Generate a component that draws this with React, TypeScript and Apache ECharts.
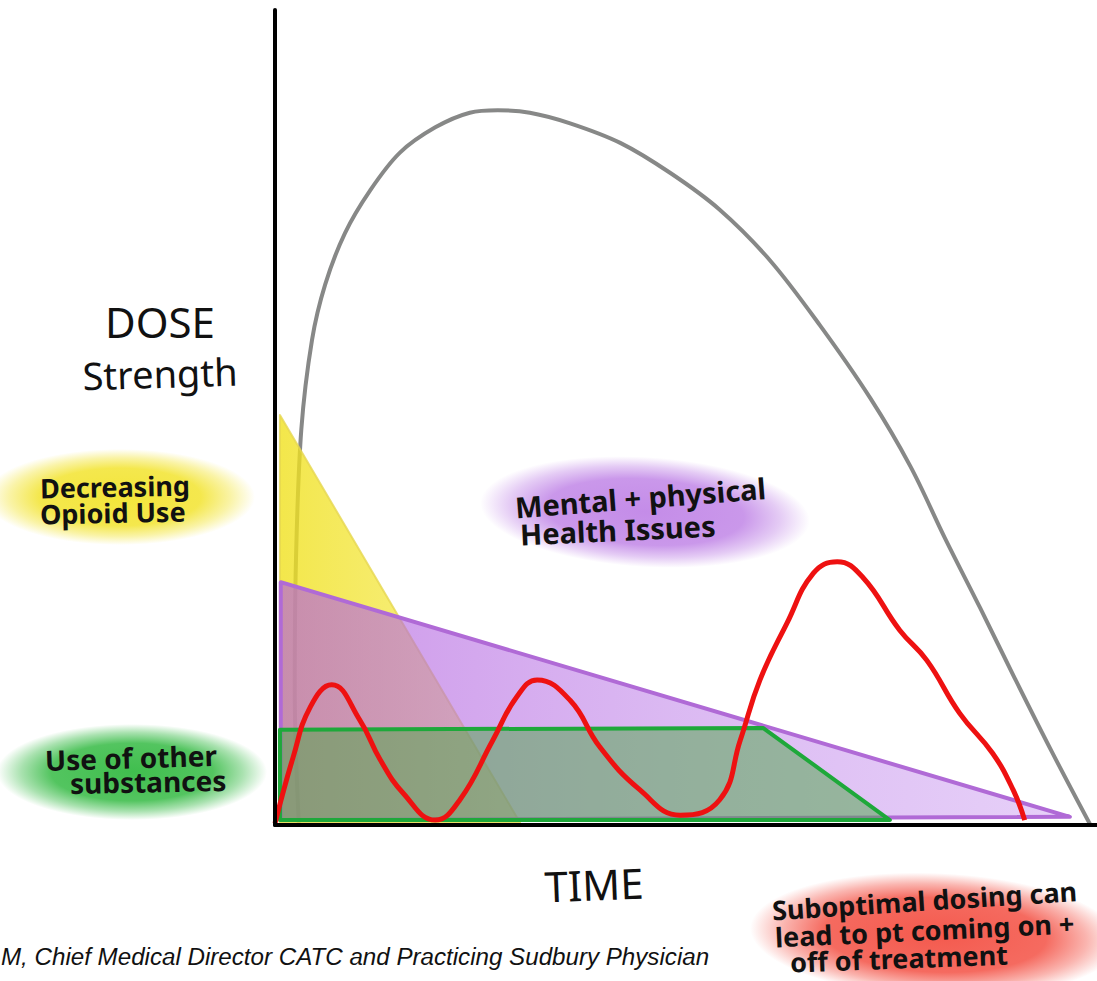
import React, { useEffect, useRef } from "react";
import * as echarts from "echarts";

// Conceptual chart: time (0-100) vs dose strength (0-100)
const toleranceCurve: number[][] = [
  [2.9, 0], [2.4, 16.6], [2.55, 32.5], [3.2, 48.5], [4.5, 59.5], [6.1, 66.3],
  [8.5, 72.6], [11.6, 77.9], [15.2, 82.5], [19.5, 85.6], [23.7, 87.4],
  [27.1, 87.7], [31.0, 87.4], [35.9, 86.1], [42.0, 83.7], [48.1, 80.0],
  [54.1, 75.5], [60.2, 69.3], [66.3, 61.3], [72.4, 52.4], [77.3, 44.0],
  [81.5, 35.2], [85.8, 26.6], [90.0, 18.0], [94.5, 9.0], [99.2, 0],
];

const doseCurve: number[][] = [
  [0, 0.2], [2.2, 8.3], [4.3, 14.5], [6.9, 17.2], [10.3, 12.9], [12.8, 8.0],
  [15.6, 3.9], [19.5, 0.6], [22.5, 3.1], [26.5, 10.4], [29.4, 15.7],
  [31.9, 17.8], [35.9, 15.3], [39.5, 9.6], [44.4, 4.3], [49.3, 1.2],
  [54.1, 3.1], [56.6, 10.4], [59.0, 17.8], [62.3, 24.8], [65.5, 30.9],
  [68.4, 32.3], [71.5, 30.4], [76.0, 23.9], [79.3, 20.2], [83.3, 13.7],
  [87.3, 8.8], [89.8, 4.3], [91.2, 0.6],
];

const opioidUse: number[][] = [[0.6, 0.3], [0.6, 50.3], [29.8, 0.3]];
const mentalHealth: number[][] = [[0.7, 0.6], [0.7, 29.8], [96.7, 1.0]];
const otherSubstances: number[][] = [[0.6, 0.6], [0.6, 11.7], [59.4, 11.9], [74.8, 0.6]];

const axisLabels = { y: ["DOSE", "Strength"], x: "TIME" };
const yellowLabel = ["Decreasing", "Opioid Use"];
const greenLabel = ["Use of other", "substances"];
const purpleLabel = ["Mental + physical", "Health Issues"];
const redLabel = ["Suboptimal dosing can", "lead to pt coming on +", "off of treatment"];
const footer = "M, Chief Medical Director CATC and Practicing Sudbury Physician";

const HAND = '"Noto Sans", sans-serif';

function glow(cx: number, cy: number, rx: number, ry: number, rgb: string, rot = 0) {
  return {
    type: "ellipse",
    x: cx,
    y: cy,
    rotation: rot,
    shape: { cx: 0, cy: 0, rx, ry },
    style: {
      fill: {
        type: "radial",
        x: 0.5,
        y: 0.5,
        r: 0.5,
        colorStops: [
          { offset: 0, color: `rgba(${rgb},1)` },
          { offset: 0.6, color: `rgba(${rgb},0.9)` },
          { offset: 0.82, color: `rgba(${rgb},0.45)` },
          { offset: 1, color: `rgba(${rgb},0)` },
        ],
      },
    },
    silent: true,
    z: 1,
  };
}

function label(text: string, x: number, y: number, rot: number, size = 27, weight = "bold", align = "left") {
  return {
    type: "text",
    x,
    y,
    rotation: rot,
    style: {
      text,
      x: 0,
      y: 0,
      font: `${weight} ${size}px ${HAND}`,
      fill: "#111",
      textAlign: align,
      textVerticalAlign: "middle",
    },
    silent: true,
    z: 10,
  };
}

function polygonSeries(verts: number[][], fill: any, stroke: string, lw: number, z: number) {
  return {
    type: "custom",
    coordinateSystem: "cartesian2d",
    data: [[verts[0][0], verts[0][1]]],
    z,
    silent: true,
    renderItem: (_p: any, api: any) => ({
      type: "polygon",
      shape: { points: verts.map((v) => api.coord(v)) },
      style: { fill, stroke, lineWidth: lw, lineJoin: "round" },
    }),
  };
}

export default function App() {
  const ref = useRef<HTMLDivElement>(null);
  useEffect(() => {
    if (!ref.current) return;
    const chart = echarts.init(ref.current, null, { renderer: "svg" });
    chart.setOption({
      animation: false,
      backgroundColor: "#ffffff",
      grid: { left: 275, right: 0, top: 10, bottom: 156 },
      xAxis: {
        type: "value",
        min: 0,
        max: 100,
        axisLine: { show: true, onZero: false, lineStyle: { color: "#000", width: 4 } },
        axisTick: { show: false },
        axisLabel: { show: false },
        splitLine: { show: false },
        z: 20,
      },
      yAxis: {
        type: "value",
        min: 0,
        max: 100,
        axisLine: { show: true, onZero: false, lineStyle: { color: "#000", width: 4 } },
        axisTick: { show: false },
        axisLabel: { show: false },
        splitLine: { show: false },
        z: 20,
      },
      series: [
        {
          type: "line",
          data: toleranceCurve,
          smooth: 0.35,
          symbol: "none",
          lineStyle: { color: "#878887", width: 4 },
          z: 2,
          silent: true,
        },
        polygonSeries(
          opioidUse,
          {
            type: "linear", x: 0, y: 0, x2: 1, y2: 0,
            colorStops: [
              { offset: 0, color: "rgba(240,225,30,0.8)" },
              { offset: 1, color: "rgba(245,232,70,0.6)" },
            ],
          },
          "rgba(230,215,80,0.8)", 2, 3
        ),
        polygonSeries(
          mentalHealth,
          {
            type: "linear", x: 0, y: 0, x2: 1, y2: 0,
            colorStops: [
              { offset: 0, color: "rgba(178,95,222,0.66)" },
              { offset: 0.5, color: "rgba(190,128,232,0.55)" },
              { offset: 1, color: "rgba(200,150,240,0.45)" },
            ],
          },
          "#b06ad6", 4, 4
        ),
        polygonSeries(
          otherSubstances,
          "rgba(75,165,70,0.5)",
          "#1ea83a", 4, 5
        ),
        {
          type: "line",
          data: doseCurve,
          smooth: 0.45,
          symbol: "none",
          lineStyle: { color: "#ee1111", width: 5 },
          z: 6,
          silent: true,
        },
      ],
      graphic: [
        glow(120, 497, 135, 48, "243,229,58"),
        glow(132, 772, 135, 48, "64,190,78"),
        glow(645, 512, 165, 55, "196,140,232", -0.06),
        glow(935, 935, 185, 62, "244,90,78", -0.04),
        label(axisLabels.y[0], 160, 321, 0, 42, "normal", "center"),
        label(axisLabels.y[1], 160, 373, 0.03, 38, "normal", "center"),
        label(axisLabels.x, 594, 884, 0.04, 42, "normal", "center"),
        label(yellowLabel[0], 40, 488, 0.02),
        label(yellowLabel[1], 40, 514, 0.02),
        label(greenLabel[0], 45, 760, 0.03, 28),
        label(greenLabel[1], 70, 783, 0.02, 28),
        label(purpleLabel[0], 515, 507, 0.077, 29),
        label(purpleLabel[1], 520, 534, 0.046, 29),
        label(redLabel[0], 772, 910, 0.063, 27),
        label(redLabel[1], 775, 937, 0.047, 27),
        label(redLabel[2], 790, 962, 0.036, 27),
        {
          type: "text",
          x: 1,
          y: 957,
          scaleX: 1.05,
          style: {
            text: footer,
            x: 0,
            y: 0,
            font: 'italic 23px "Liberation Sans", Arial, sans-serif',
            fill: "#111",
            textAlign: "left",
            textVerticalAlign: "middle",
          },
          silent: true,
          z: 10,
        },
      ],
    });
    return () => chart.dispose();
  }, []);
  return (
    <div
      ref={ref}
      style={{ position: "absolute", left: 0, top: 0, width: 1097, height: 981 }}
    />
  );
}
